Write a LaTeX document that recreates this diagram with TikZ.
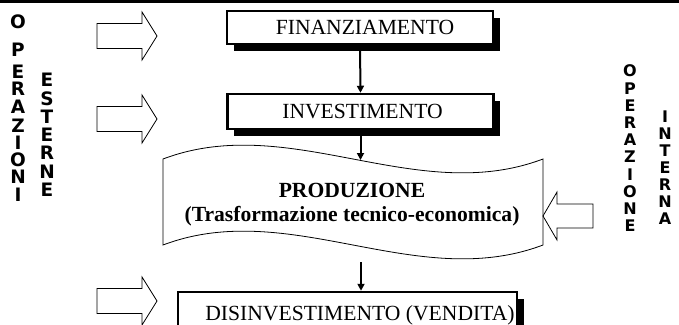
\documentclass[tikz,border=0pt]{standalone}
\usepackage{fontspec}
\setmainfont{Liberation Serif}
\newfontfamily\comicfont{DejaVu Sans}
\usetikzlibrary{arrows.meta,shadows}

\begin{document}
\begin{tikzpicture}[x=1pt,y=-1pt,
    blocco/.style={draw,line width=2.5pt,fill=white,inner sep=0pt,
        minimum width=266pt,minimum height=33pt,
        font=\fontsize{21.6}{24}\selectfont,
        drop shadow={shadow xshift=6.5pt,shadow yshift=-6.5pt,fill=black,opacity=1}},
    collega/.style={-{Triangle[length=7pt,width=7pt]},line width=2pt},
    vuota/.style={draw,line width=0.8pt,line join=miter},
    letterona/.style={font=\comicfont\bfseries\fontsize{18.5}{18.5}\selectfont,
        inner sep=0pt,text height=13.5pt,text depth=0pt},
    letterina/.style={font=\comicfont\bfseries\fontsize{16}{16}\selectfont,
        inner sep=0pt,text height=11.7pt,text depth=0pt}]
        \useasboundingbox (0,0) rectangle (679,324);
        \clip (0,0) rectangle (679,324);
        \draw [line width=2.5pt] (0,1.5) -- (679,1.5);
        % blocchi
        \node[blocco] (fin) at (360,27.5) {\hspace*{10pt}FINANZIAMENTO};
        \node[blocco,minimum height=35pt] (inv) at (360.5,111.5) {\hspace*{4pt}INVESTIMENTO};
        \node[blocco,minimum width=339pt,minimum height=40pt] (dis) at (347.5,312) {};
        \node[anchor=base,inner sep=0pt,font=\fontsize{21.6}{24}\selectfont] (distesto) at (360,320) {DISINVESTIMENTO (VENDITA)};
        % produzione
        \draw [vuota,fill=white] (163,159) .. controls (290,111) and (416,207) .. (543,159)
            -- (543,245) .. controls (416,293) and (290,197) .. (163,245) -- cycle;
        \node[align=center,inner sep=0pt,font=\bfseries\fontsize{21.6}{24}\selectfont] (prod) at (352,205)
            {PRODUZIONE\\(Trasformazione tecnico-economica)};
        \coordinate (prodsopra) at (361,160);
        \coordinate (prodsotto) at (361,262);
        % frecce
        \draw [collega] (fin.south) -- (inv.north);
        \draw [collega] (inv.south) -- (inv.south |- prodsopra);
        \draw [collega] (prodsotto) -- (prodsotto |- dis.north);
        % frecce vuote
        \foreach \c in {36,119,301}
            \draw [vuota] (97,\c-12.5) -- (142,\c-12.5) -- (142,\c-24) -- (157,\c)
                -- (142,\c+24) -- (142,\c+12.5) -- (97,\c+12.5) -- cycle;
        \draw [vuota] (593,204) -- (557,204) -- (557,192) -- (543,216)
            -- (557,240) -- (557,228) -- (593,228) -- cycle;
        % scritte verticali
        \foreach \l/\y in {O/22,P/50,E/72,R/89,A/107,Z/126,I/143,O/160,N/177,I/195}
            \node[letterona] at (18,\y) {\l};
        \foreach \l [count=\i from 0] in {E,S,T,E,R,N,E}
            \node[letterona] at (47,80+18.3*\i) {\l};
        \foreach \l [count=\i from 0] in {O,P,E,R,A,Z,I,O,N,E}
            \node[letterina] at (630,71+17.2*\i) {\l};
        \foreach \l [count=\i from 0] in {I,N,T,E,R,N,A}
            \node[letterina] at (665,117+16.9*\i) {\l};
    \end{tikzpicture}
\end{document}
